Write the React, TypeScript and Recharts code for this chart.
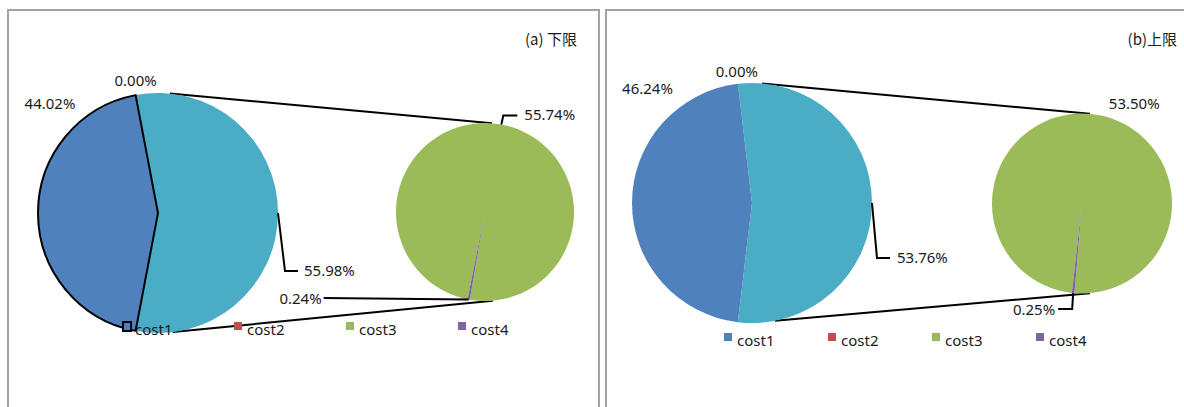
import React from 'react';
import { PieChart, Pie, Cell, Legend, Customized } from 'recharts';

// ---- data ----
const categories = ['cost1', 'cost2', 'cost3', 'cost4'];
const lowerShares = [44.02, 0.0, 55.74, 0.24]; // (a) 下限
const upperShares = [46.24, 0.0, 53.5, 0.25]; // (b) 上限
const otherShares = [55.98, 53.76]; // combined slice of primary pie (cost3+cost4), as labelled
const panelTitles = ['(a) 下限', '(b)上限'];
const OTHER = 'other';

// ---- styles ----
const COLORS: Record<string, string> = {
  cost1: '#4F81BD',
  cost2: '#C0504D',
  cost3: '#9BBB59',
  cost4: '#8064A2',
  other: '#4BACC6',
};
const FONT = '"Noto Sans", "DejaVu Sans", sans-serif';
const TEXT = '#1a1a1a';

type LabelCfg = { leader?: number[][]; text: [number, number, 'start' | 'middle' | 'end'] };

const PANELS = [
  {
    offsetX: 0,
    width: 600,
    shares: lowerShares,
    other: otherShares[0],
    title: panelTitles[0],
    titlePos: [577, 38],
    primary: { cx: 158, cy: 213, r: 120 },
    secondary: { cx: 485, cy: 212, r: 89, start: -99.8 },
    conn: { pTop: 84.3, pBot: -83, sTop: 85.5, sBot: -85 },
    outlineCost1: true,
    legend: { left: 122, top: 321, step: 112 },
    labels: {
      other: { leader: [[0, 0], [7, 58], [20, 58]], text: [26, 57, 'start'] },
      cost2: { text: [0, -15, 'middle'] },
      cost1: { text: [12, -110, 'middle'] },
      cost3: { leader: [[0, 0], [2, -9], [16, -9]], text: [23, -11, 'start'] },
      cost4: { leader: [[0, 0], [-145, -1.5]], text: [-147, -1.5, 'end'] },
    } as Record<string, LabelCfg>,
  },
  {
    offsetX: 600,
    width: 584,
    shares: upperShares,
    other: otherShares[1],
    title: panelTitles[1],
    titlePos: [1177, 38],
    primary: { cx: 752, cy: 203, r: 120 },
    secondary: { cx: 1082, cy: 203.5, r: 90, start: -94.8 },
    conn: { pTop: 85.2, pBot: -79, sTop: 85, sBot: -85 },
    outlineCost1: false,
    legend: { left: 724, top: 332, step: 104 },
    labels: {
      other: { leader: [[0, 0], [5, 55], [18, 55]], text: [25, 54, 'start'] },
      cost2: { text: [-1, -13, 'middle'] },
      cost1: { text: [15.5, -115, 'middle'] },
      cost3: { text: [18, -11, 'start'] },
      cost4: { leader: [[0, 0], [-1, 16], [-15, 16]], text: [-18, 16, 'end'] },
    } as Record<string, LabelCfg>,
  },
];

const RAD = Math.PI / 180;
const polar = (cx: number, cy: number, r: number, a: number) => [cx + r * Math.cos(-a * RAD), cy + r * Math.sin(-a * RAD)];

function makeLabel(panel: any) {
  return (props: any) => {
    const { cx, cy, outerRadius, midAngle, value } = props;
    const name = props.payload?.name ?? props.name;
    const cfg: LabelCfg | undefined = panel.labels[name];
    if (!cfg) return null;
    const [ex, ey] = polar(cx, cy, outerRadius, midAngle);
    const [tx, ty, anchor] = cfg.text;
    return (
      <g key={`lbl-${name}`}>
        {cfg.leader && (
          <polyline
            points={cfg.leader.map(([x, y]) => `${ex + x},${ey + y}`).join(' ')}
            fill="none"
            stroke="#000"
            strokeWidth={2}
          />
        )}
        <text
          x={ex + tx}
          y={ey + ty}
          textAnchor={anchor}
          dominantBaseline="central"
          fontFamily={FONT}
          fontSize={15}
          fill={TEXT}
        >
          {`${Number(value).toFixed(2)}%`}
        </text>
      </g>
    );
  };
}

function makeLegend(panel: any) {
  return (props: any) => {
    const payload = (props.payload || [])
      .filter((p: any) => categories.includes(p.value))
      .sort((a: any, b: any) => categories.indexOf(a.value) - categories.indexOf(b.value));
    return (
      <div style={{ display: 'flex', fontFamily: FONT, fontSize: 15, lineHeight: '16px', color: TEXT }}>
        {payload.map((p: any) => {
          const outlined = panel.outlineCost1 && p.value === 'cost1';
          return (
            <div key={p.value} style={{ position: 'relative', width: panel.legend.step, height: 16 }}>
              <span
                style={{
                  position: 'absolute',
                  left: outlined ? 0 : 0,
                  top: outlined ? 0 : 1,
                  width: outlined ? 10 : 8,
                  height: outlined ? 11 : 8,
                  boxSizing: 'border-box',
                  background: COLORS[p.value] || p.color,
                  border: outlined ? '2px solid #000' : 'none',
                }}
              />
              <span style={{ position: 'absolute', left: 13, top: 0, whiteSpace: 'nowrap' }}>{p.value}</span>
            </div>
          );
        })}
      </div>
    );
  };
}

function PanelChart({ panel }: { panel: any }) {
  const ox = panel.offsetX;
  const primaryData = [
    { name: OTHER, value: panel.other },
    { name: categories[1], value: panel.shares[1] },
    { name: categories[0], value: panel.shares[0] },
  ];
  const secondaryData = [
    { name: categories[2], value: panel.shares[2] },
    { name: categories[3], value: panel.shares[3] },
  ];
  const total = primaryData.reduce((s, d) => s + d.value, 0);
  const pStart = -(panel.other / total) * 180;
  const p = { cx: panel.primary.cx - ox, cy: panel.primary.cy, r: panel.primary.r };
  const s = { cx: panel.secondary.cx - ox, cy: panel.secondary.cy, r: panel.secondary.r };

  const Connectors = () => {
    const a1 = polar(p.cx, p.cy, p.r, panel.conn.pTop);
    const b1 = polar(s.cx, s.cy, s.r, panel.conn.sTop);
    const a2 = polar(p.cx, p.cy, p.r, panel.conn.pBot);
    const b2 = polar(s.cx, s.cy, s.r, panel.conn.sBot);
    return (
      <g>
        <line x1={a1[0]} y1={a1[1]} x2={b1[0]} y2={b1[1]} stroke="#000" strokeWidth={2} />
        <line x1={a2[0]} y1={a2[1]} x2={b2[0]} y2={b2[1]} stroke="#000" strokeWidth={2} />
        <text
          x={panel.titlePos[0] - ox}
          y={panel.titlePos[1]}
          textAnchor="end"
          dominantBaseline="central"
          fontFamily='"Noto Sans CJK SC", "Noto Sans", sans-serif'
          fontSize={15}
          fill={TEXT}
        >
          {panel.title}
        </text>
      </g>
    );
  };

  return (
    <PieChart width={panel.width} height={407} margin={{ top: 0, right: 0, bottom: 0, left: 0 }}>
      <Customized component={Connectors} />
      <Pie
        data={primaryData}
        dataKey="value"
        nameKey="name"
        cx={p.cx}
        cy={p.cy}
        outerRadius={p.r}
        startAngle={pStart}
        endAngle={pStart + 360}
        isAnimationActive={false}
        label={makeLabel(panel)}
        labelLine={false}
        stroke="none"
      >
        {primaryData.map((d) => (
          <Cell
            key={d.name}
            fill={COLORS[d.name]}
            stroke={panel.outlineCost1 && d.name === 'cost1' ? '#000' : 'none'}
            strokeWidth={panel.outlineCost1 && d.name === 'cost1' ? 2 : 0}
          />
        ))}
      </Pie>
      <Pie
        data={secondaryData}
        dataKey="value"
        nameKey="name"
        cx={s.cx}
        cy={s.cy}
        outerRadius={s.r}
        startAngle={panel.secondary.start}
        endAngle={panel.secondary.start + 360}
        isAnimationActive={false}
        label={makeLabel(panel)}
        labelLine={false}
        stroke="none"
      >
        {secondaryData.map((d) => (
          <Cell key={d.name} fill={COLORS[d.name]} stroke="none" />
        ))}
      </Pie>
      <Legend
        verticalAlign="bottom"
        content={makeLegend(panel)}
        wrapperStyle={{ position: 'absolute', left: panel.legend.left - ox, top: panel.legend.top, bottom: 'auto', width: 460 }}
      />
    </PieChart>
  );
}

export default function App() {
  return (
    <div style={{ position: 'fixed', left: 0, top: 0, width: 1184, height: 407, overflow: 'hidden', background: '#fff' }}>
      <div style={{ position: 'absolute', left: 7, top: 9, width: 593, height: 430, boxSizing: 'border-box', border: '2px solid #a3a3a3' }} />
      <div style={{ position: 'absolute', left: 605, top: 9, width: 620, height: 430, boxSizing: 'border-box', border: '2px solid #a3a3a3' }} />
      {PANELS.map((panel) => (
        <div key={panel.title} style={{ position: 'absolute', left: panel.offsetX, top: 0, width: panel.width, height: 407 }}>
          <PanelChart panel={panel} />
        </div>
      ))}
    </div>
  );
}
